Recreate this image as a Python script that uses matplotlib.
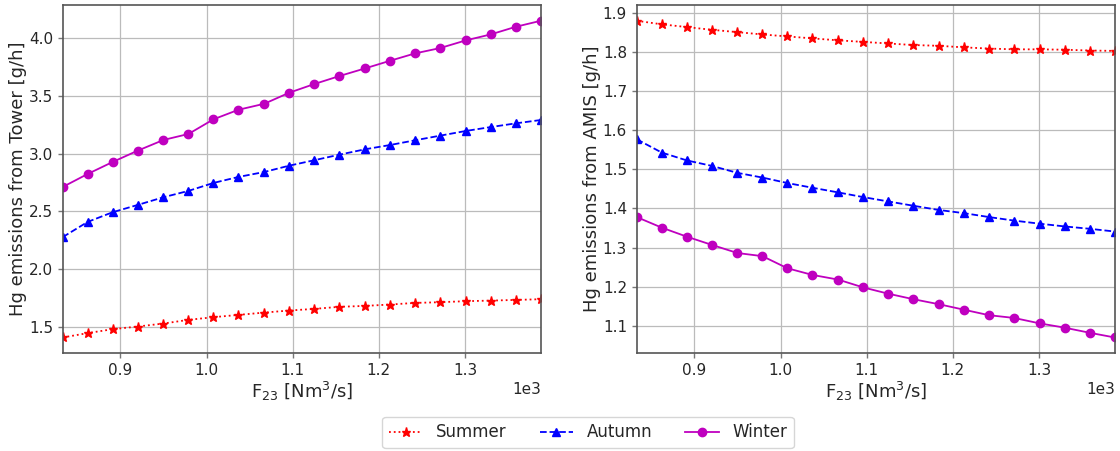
import matplotlib
matplotlib.use("Agg")
import matplotlib.pyplot as plt

# flow rate F23 [Nm3/s]
flow = [833, 862, 891, 920, 950, 979, 1008, 1037, 1067, 1096,
        1125, 1154, 1184, 1213, 1242, 1271, 1301, 1330, 1359, 1388]

# Hg emissions from tower [g/h]
tower_summer = [1.405, 1.443, 1.477, 1.500, 1.526, 1.558, 1.581, 1.601, 1.621, 1.639,
                1.653, 1.671, 1.679, 1.691, 1.705, 1.711, 1.720, 1.725, 1.731, 1.737]
tower_autumn = [2.276, 2.408, 2.492, 2.555, 2.622, 2.677, 2.746, 2.798, 2.841, 2.896,
                2.943, 2.991, 3.038, 3.075, 3.116, 3.156, 3.197, 3.231, 3.263, 3.292]
tower_winter = [2.711, 2.824, 2.928, 3.026, 3.119, 3.171, 3.298, 3.381, 3.433, 3.529,
                3.604, 3.673, 3.740, 3.806, 3.870, 3.916, 3.983, 4.035, 4.101, 4.153]

# Hg emissions from AMIS [g/h]
amis_summer = [1.880, 1.871, 1.864, 1.857, 1.851, 1.845, 1.840, 1.835, 1.830, 1.826,
               1.822, 1.818, 1.816, 1.812, 1.809, 1.807, 1.807, 1.806, 1.804, 1.803]
amis_autumn = [1.577, 1.543, 1.523, 1.509, 1.491, 1.479, 1.465, 1.453, 1.441, 1.429,
               1.418, 1.407, 1.396, 1.388, 1.378, 1.369, 1.361, 1.354, 1.348, 1.341]
amis_winter = [1.378, 1.351, 1.328, 1.307, 1.286, 1.278, 1.247, 1.230, 1.218, 1.198,
               1.182, 1.168, 1.155, 1.141, 1.127, 1.120, 1.106, 1.095, 1.082, 1.070]

seasons = ["Summer", "Autumn", "Winter"]
styles = [dict(color="r", linestyle=":", marker="*", markersize=6.5),
          dict(color="b", linestyle="--", marker="^", markersize=6),
          dict(color="m", linestyle="-", marker="o", markersize=6)]

plt.rcParams["font.family"] = ["DejaVu Sans"]
plt.rcParams["mathtext.fontset"] = "dejavusans"
text_col = "#262626"

fig = plt.figure(figsize=(11.2, 4.51), dpi=100)
ax1 = fig.add_axes([0.056, 0.2166, 0.4268, 0.7724])
ax2 = fig.add_axes([0.5685, 0.2166, 0.4268, 0.7724])

panels = [(ax1, [tower_summer, tower_autumn, tower_winter], "Hg emissions from Tower [g/h]"),
          (ax2, [amis_summer, amis_autumn, amis_winter], "Hg emissions from AMIS [g/h]")]

for ax, series, ylab in panels:
    for name, vals, st in zip(seasons, series, styles):
        ax.plot(flow, vals, label=name, linewidth=1.3, **st)
    ax.set_xlim(flow[0], flow[-1])
    ax.ticklabel_format(axis="x", style="sci", scilimits=(0, 0))
    ax.grid(True, color="#bbbbbb", linewidth=0.9)
    ax.set_axisbelow(True)
    ax.tick_params(length=3.5, width=1, color="#777777", labelsize=11,
                   labelcolor=text_col)
    ax.xaxis.get_offset_text().set_fontsize(11)
    ax.xaxis.get_offset_text().set_color(text_col)
    for sp in ax.spines.values():
        sp.set_color("#555555")
        sp.set_linewidth(1.2)
    ax.set_xlabel("F$_{23}$ [Nm$^3$/s]", fontsize=13, color=text_col, labelpad=1)
    ax.set_ylabel(ylab, fontsize=13, color=text_col, labelpad=1)

ax1.set_yticks([1.5, 2.0, 2.5, 3.0, 3.5, 4.0])
ax2.set_yticks([1.1, 1.2, 1.3, 1.4, 1.5, 1.6, 1.7, 1.8, 1.9])

handles, labels = ax1.get_legend_handles_labels()
leg = fig.legend(handles, labels, loc="lower center", ncol=3, fontsize=12,
                 bbox_to_anchor=(0.525, -0.012), frameon=True)
for t in leg.get_texts():
    t.set_color(text_col)

fig.savefig("out.png", dpi=100)
